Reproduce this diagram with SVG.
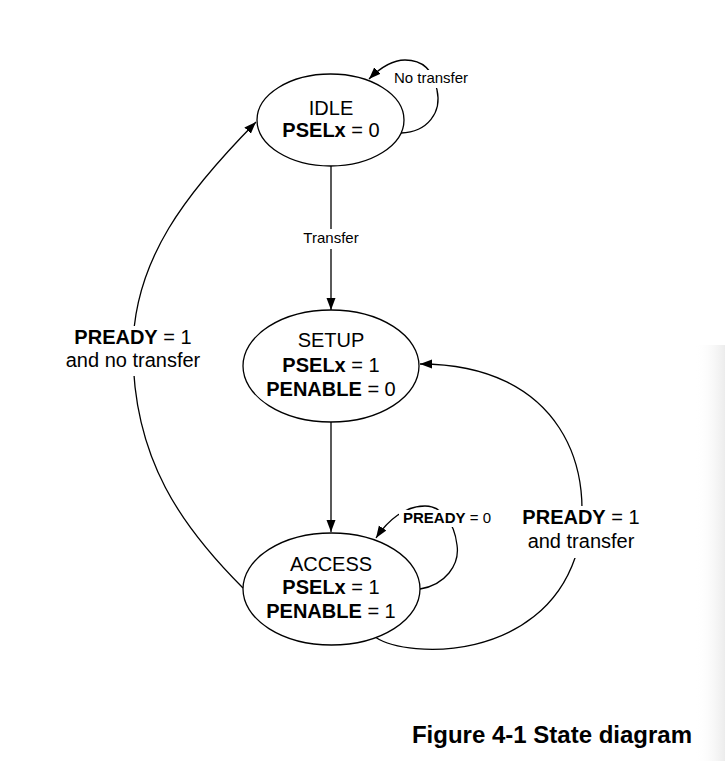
<svg xmlns="http://www.w3.org/2000/svg" width="725" height="761" viewBox="0 0 725 761">
<defs>
<marker id="arr" markerUnits="userSpaceOnUse" markerWidth="13" markerHeight="10" refX="12" refY="4.5" orient="auto">
<path d="M0,0 L12,4.5 L0,9 z" fill="#000"/>
</marker>
<linearGradient id="shade" x1="0" y1="0" x2="1" y2="0">
<stop offset="0" stop-color="#ffffff" stop-opacity="0"/>
<stop offset="1" stop-color="#ececec"/>
</linearGradient>
<style>
.st{fill:#fff;stroke:#000;stroke-width:1.3}
.ln{fill:none;stroke:#000;stroke-width:1.3}
.t{font-family:"Liberation Sans",Arial,sans-serif;font-size:20px;fill:#000;text-anchor:middle}
.s{font-family:"Liberation Sans",Arial,sans-serif;font-size:15px;fill:#000;text-anchor:middle}
.b{font-weight:bold}
.bg{fill:#fff}
</style>
</defs>
<rect width="725" height="761" fill="#fff"/>
<rect x="695" y="345" width="30" height="416" fill="url(#shade)"/>

<g id="connectors">
<path class="ln" d="M331,166 L331,310" marker-end="url(#arr)"/>
<path class="ln" d="M331,422 L331,532" marker-end="url(#arr)"/>
<path class="ln" d="M401,133 C428,132 442,112 437,90 C433,68 420,60 405,60 C390,60 378,70 369,79" marker-end="url(#arr)"/>
<path class="ln" d="M420,589 C445,585 460,565 457,545 C454,520 440,506 425,506 C405,506 388,520 376,538" marker-end="url(#arr)"/>
<path class="ln" d="M243,588 C183,528 133,460 133,350 C133,260 187,192 256,122" marker-end="url(#arr)"/>
<path class="ln" d="M375,637 C410,660 540,660 575,558 C600,470 560,364 420,364" marker-end="url(#arr)"/>
<rect class="bg" x="298" y="229" width="66" height="20"/>
<rect class="bg" x="390" y="70" width="84" height="18"/>
<rect class="bg" x="399" y="510" width="96" height="17"/>
<rect class="bg" x="60" y="326" width="146" height="50"/>
<rect class="bg" x="520" y="506" width="122" height="52"/>
<text class="s" x="331" y="243">Transfer</text>
<text class="s" x="431" y="83">No transfer</text>
<text class="s" x="447" y="523"><tspan class="b">PREADY</tspan> = 0</text>
<text class="t" x="133" y="344"><tspan class="b">PREADY</tspan> = 1</text>
<text class="t" x="133" y="367">and no transfer</text>
<text class="t" x="581" y="524"><tspan class="b">PREADY</tspan> = 1</text>
<text class="t" x="581" y="548">and transfer</text>
</g>

<g id="idle">
<ellipse class="st" cx="330.5" cy="120" rx="73.5" ry="46"/>
<text class="t" x="331" y="115">IDLE</text>
<text class="t" x="331" y="137"><tspan class="b">PSELx</tspan> = 0</text>
</g>

<g id="setup">
<ellipse class="st" cx="331" cy="366" rx="88" ry="56"/>
<text class="t" x="331" y="347">SETUP</text>
<text class="t" x="331" y="372"><tspan class="b">PSELx</tspan> = 1</text>
<text class="t" x="331" y="396"><tspan class="b">PENABLE</tspan> = 0</text>
</g>

<g id="access">
<ellipse class="st" cx="331.5" cy="589" rx="88.5" ry="56"/>
<text class="t" x="331" y="571">ACCESS</text>
<text class="t" x="331" y="594"><tspan class="b">PSELx</tspan> = 1</text>
<text class="t" x="331" y="618"><tspan class="b">PENABLE</tspan> = 1</text>
</g>

<text x="552" y="743" style="font-family:'Liberation Sans',Arial,sans-serif;font-size:24px;font-weight:bold;text-anchor:middle">Figure 4-1 State diagram</text>
</svg>
